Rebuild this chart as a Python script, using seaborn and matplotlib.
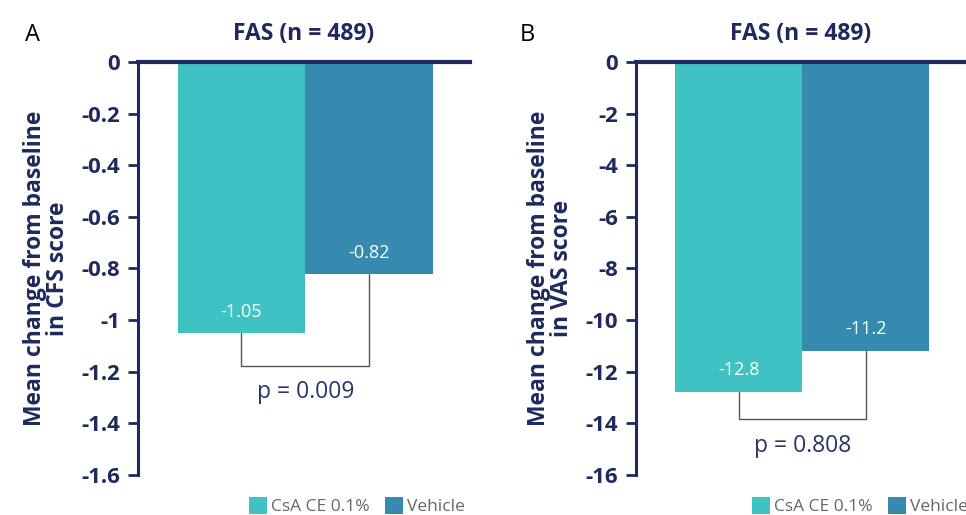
import numpy as np
import pandas as pd
import matplotlib
matplotlib.use("Agg")
import matplotlib.pyplot as plt
import seaborn as sns
from matplotlib.patches import Patch

# data
groups = ["CsA CE 0.1%", "Vehicle"]
cfs_change = [-1.05, -0.82]
vas_change = [-12.8, -11.2]
cfs_labels = ["-1.05", "-0.82"]
vas_labels = ["-12.8", "-11.2"]
cfs_ticks = [0, -0.2, -0.4, -0.6, -0.8, -1, -1.2, -1.4, -1.6]
vas_ticks = [0, -2, -4, -6, -8, -10, -12, -14, -16]
p_values = ["p = 0.009", "p = 0.808"]
title = "FAS (n = 489)"

colors = ["#40C2C2", "#368AAF"]
navy = "#1E2A5E"

sns.set_theme(style="white")
plt.rcParams['font.family'] = ['Open Sans', 'DejaVu Sans']

fig = plt.figure(figsize=(9.66, 5.15), dpi=100)
axA = fig.add_axes([0.1429, 0.0777, 0.3437, 0.8019])
axB = fig.add_axes([0.6584, 0.0777, 0.3416, 0.8019])


def panel(ax, vals, labels, ticks, pval, ylabel, letter, letter_x,
          lab_off, br_y, p_y):
    df = pd.DataFrame({"group": groups, "value": vals})
    sns.barplot(data=df, x="group", y="value", hue="group", palette=colors,
                width=1.0, legend=False, ax=ax, saturation=1, linewidth=0)
    ax.set_xlim(-0.81, 1.79)
    ax.set_ylim(ticks[-1], 0)
    ax.set_yticks(ticks)
    ax.set_yticklabels([f"{t:g}" for t in ticks], fontsize=16,
                       fontweight="bold", color=navy)
    ax.set_xticks([])
    ax.set_xlabel("")
    ax.set_ylabel(ylabel, fontsize=16.5, fontweight="bold", color=navy,
                  linespacing=0.95, labelpad=8)
    for s in ["right", "bottom"]:
        ax.spines[s].set_visible(False)
    ax.spines["top"].set_color(navy)
    ax.spines["top"].set_linewidth(3)
    ax.spines["left"].set_color(navy)
    ax.spines["left"].set_linewidth(2.2)
    ax.tick_params(axis="y", left=True, length=7, width=2, color=navy, pad=6)
    ax.set_title(title, fontsize=16.5, fontweight="bold", color=navy, pad=16)

    for i, (v, lab) in enumerate(zip(vals, labels)):
        ax.text(i, v + lab_off, lab, ha="center", va="center",
                color="white", fontsize=13)

    # significance bracket
    ax.plot([0, 0, 1, 1], [vals[0], br_y, br_y, vals[1]],
            color="#555555", lw=1)
    ax.text(0.5, p_y, pval, ha="center", va="center", color="#2A3566",
            fontsize=16.5)

    fig.text(letter_x, 1 - 35 / 515, letter, fontsize=17, color="black",
             ha="left", va="center")


panel(axA, cfs_change, cfs_labels, cfs_ticks, p_values[0],
      "Mean change from baseline\nin CFS score", "A", 25 / 966,
      0.08, -1.178, -1.28)
panel(axB, vas_change, vas_labels, vas_ticks, p_values[1],
      "Mean change from baseline\nin VAS score", "B", 520 / 966,
      0.85, -13.83, -14.88)

handles = [Patch(facecolor=c, edgecolor="none") for c in colors]
for cx in [357 / 966, 860 / 966]:
    fig.legend(handles, groups, loc="center", bbox_to_anchor=(cx, 1 - 506 / 515),
               ncol=2, frameon=False, fontsize=12.5, handlelength=1.0,
               handleheight=1.1, handletextpad=0.25, columnspacing=0.9,
               labelcolor="#666666")

fig.savefig("out.png", dpi=100)
